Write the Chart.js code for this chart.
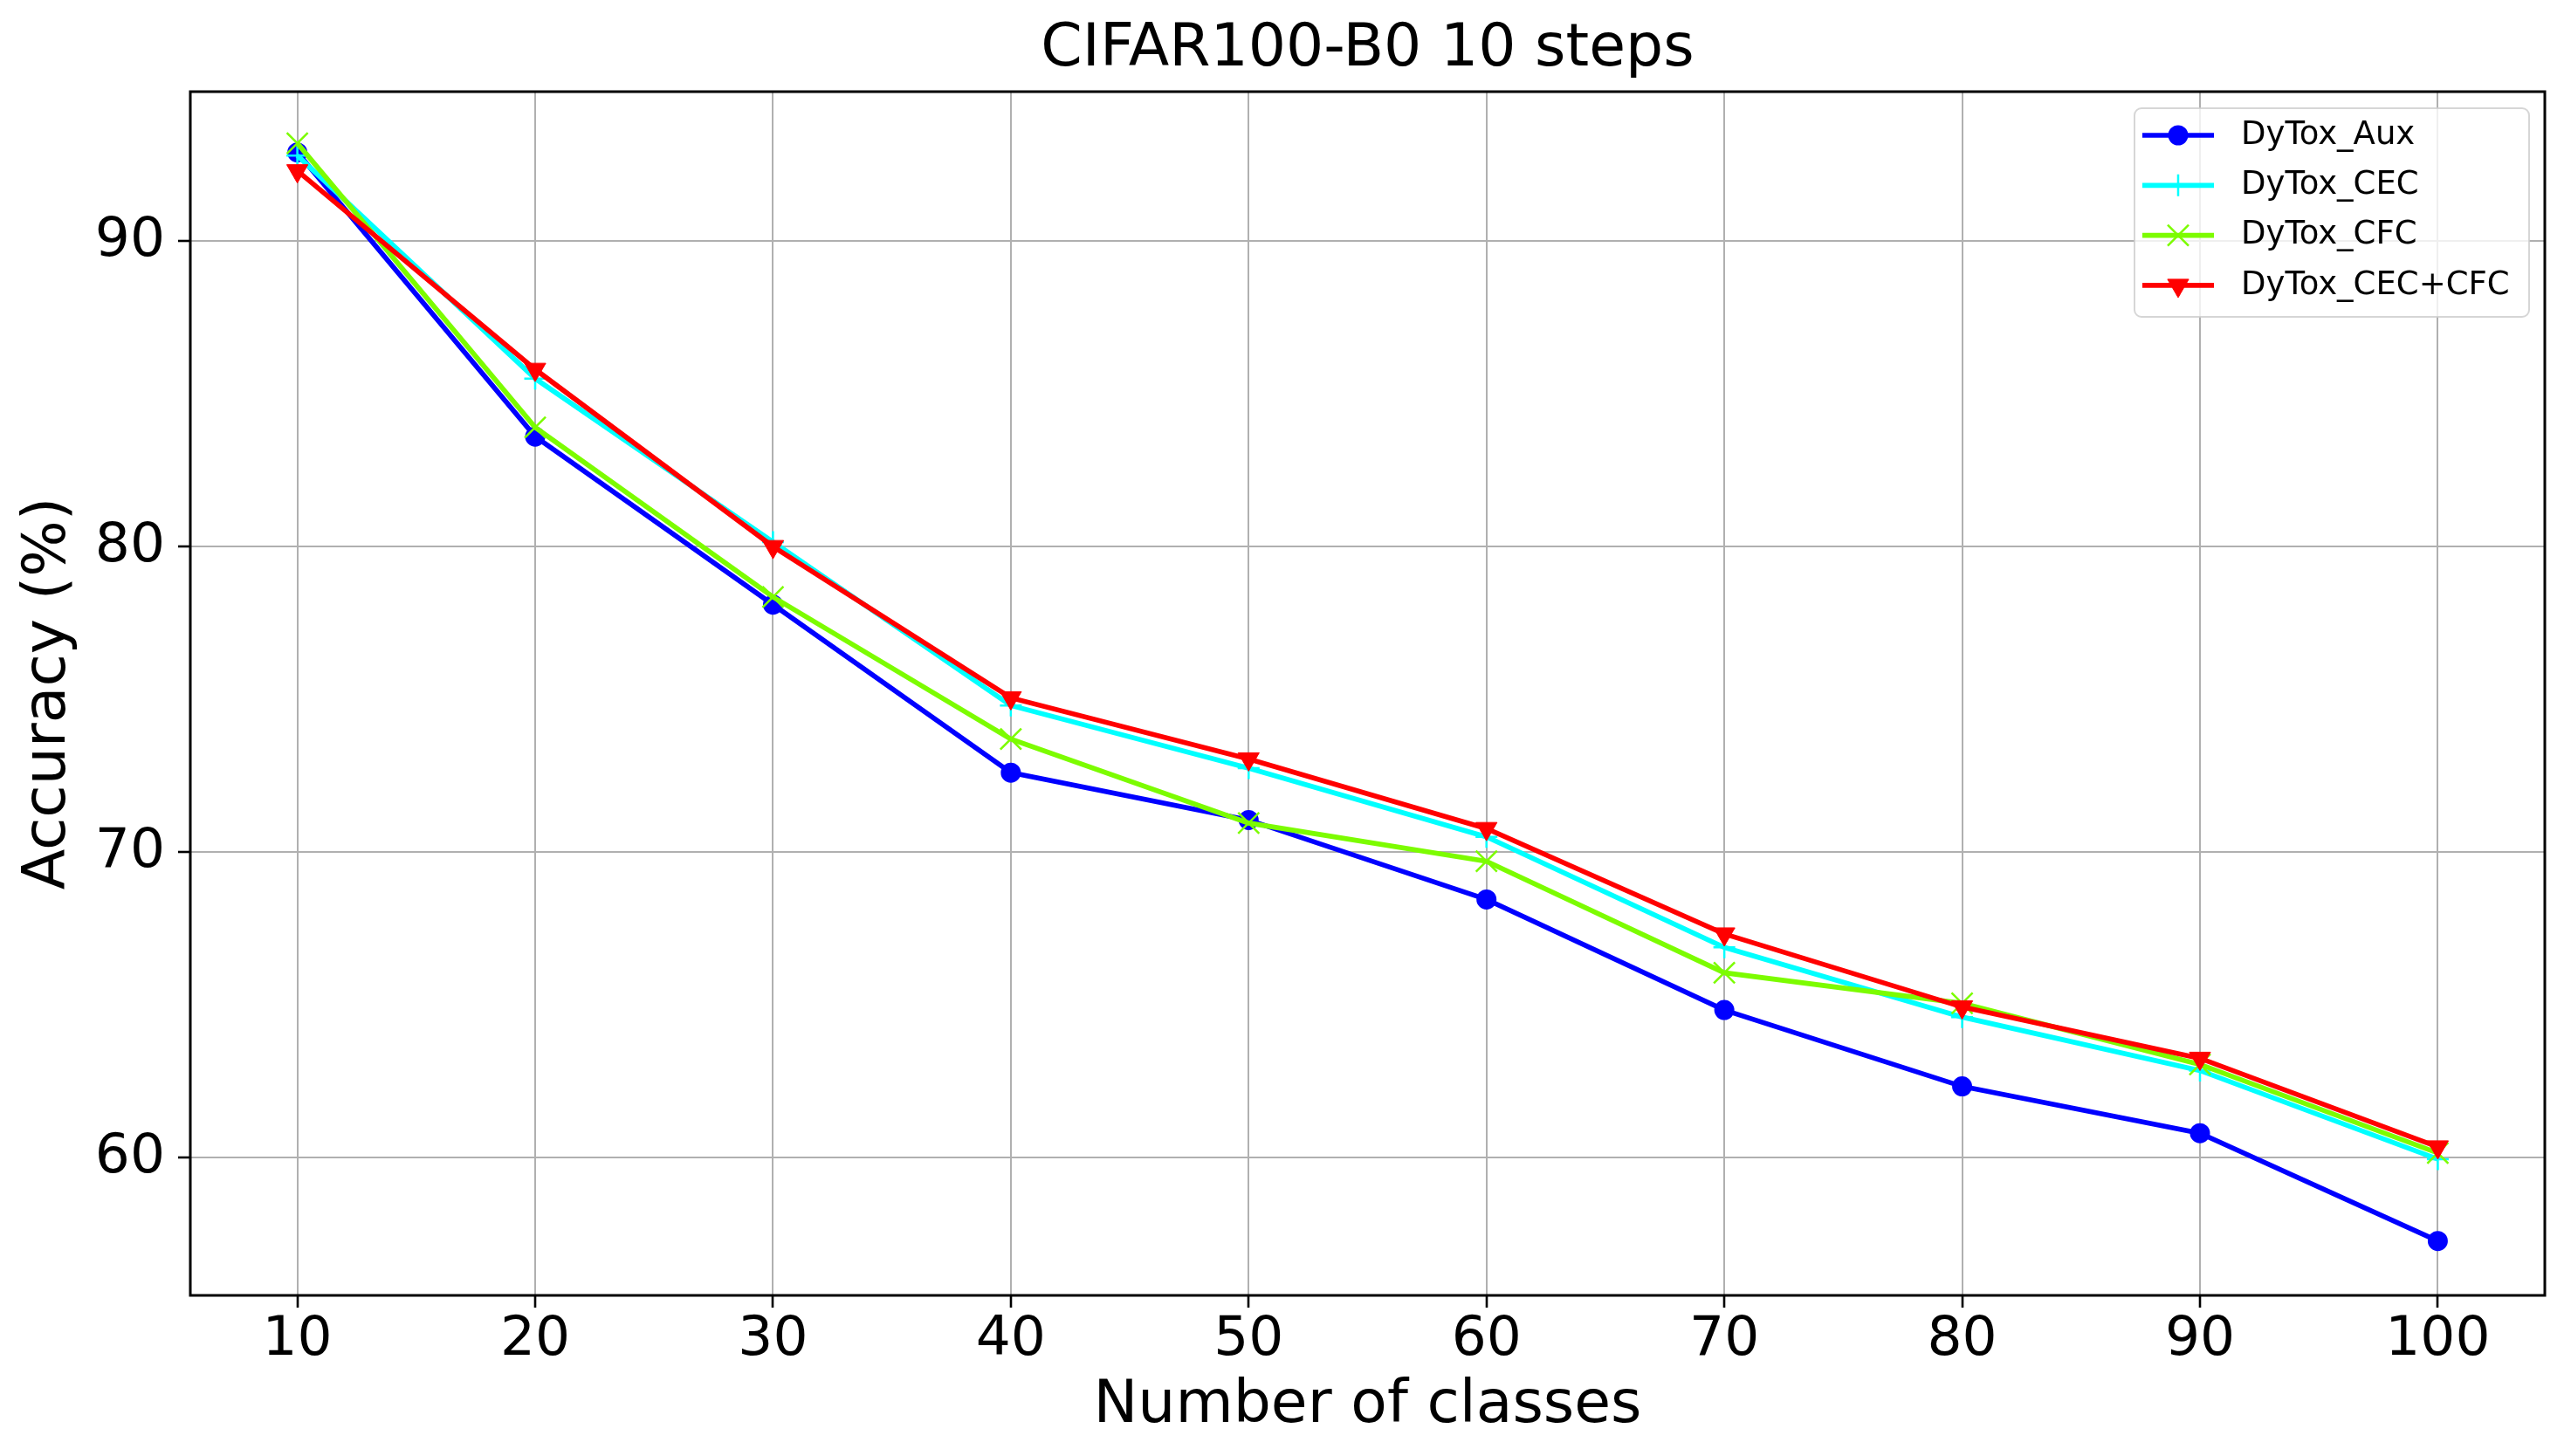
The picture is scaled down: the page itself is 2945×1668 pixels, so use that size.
<!DOCTYPE html>
<html>
<head>
<meta charset="utf-8">
<script src="https://cdn.jsdelivr.net/npm/chart.js@4.4.1/dist/chart.umd.min.js"></script>
<style>
  html, body { margin: 0; padding: 0; background: #fff; }
  canvas { display: block; }
</style>
</head>
<body>
<canvas id="accChart" width="2945" height="1668" style="width:2945px;height:1668px"></canvas>
<script>
// values
const classes = [10, 20, 30, 40, 50, 60, 70, 80, 90, 100];
const xTicks = [10, 20, 30, 40, 50, 60, 70, 80, 90, 100];
const yTicks = [60, 70, 80, 90];
const auxAcc    = [92.9, 83.6, 78.1, 72.6, 71.05, 68.45, 64.83, 62.33, 60.8, 57.27];
const cecAcc    = [92.8, 85.5, 80.15, 74.8, 72.75, 70.5, 66.88, 64.6, 62.85, 59.95];
const cfcAcc    = [93.2, 83.9, 78.35, 73.7, 70.95, 69.7, 66.05, 65.05, 63.05, 60.15];
const cecCfcAcc = [92.3, 85.8, 80.0, 75.05, 73.05, 70.77, 67.32, 64.93, 63.25, 60.35];

const series = [
  { label: 'DyTox_Aux', values: auxAcc, color: '#0000ff', style: 'circle', radius: 10.5, bw: 2, rot: 0 },
  { label: 'DyTox_CEC', values: cecAcc, color: '#00ffff', style: 'cross', radius: 12.5, bw: 2.5, rot: 0 },
  { label: 'DyTox_CFC', values: cfcAcc, color: '#7cfc00', style: 'crossRot', radius: 17, bw: 2.5, rot: 0 },
  { label: 'DyTox_CEC+CFC', values: cecCfcAcc, color: '#ff0000', style: 'triangle', radius: 14, bw: 1, rot: 180 }
];

const fontFamily = "'DejaVu Sans', sans-serif";
Chart.defaults.font.family = fontFamily;
Chart.defaults.color = '#000';

// top and right spines too, like a matplotlib axes box
const frame = {
  id: 'frame',
  afterDraw(chart) {
    const { ctx, chartArea: a } = chart;
    ctx.save();
    ctx.strokeStyle = '#000';
    ctx.lineWidth = 3;
    ctx.strokeRect(a.left, a.top, a.right - a.left, a.bottom - a.top);
    ctx.restore();
  }
};

// legend box inside the plot, upper right
const insideLegend = {
  id: 'insideLegend',
  afterDraw(chart) {
    const { ctx, chartArea: a } = chart;
    const w = 452, h = 239;
    const x0 = a.right - 18 - w, y0 = a.top + 19;
    ctx.save();
    ctx.beginPath();
    ctx.roundRect(x0, y0, w, h, 8);
    ctx.fillStyle = 'rgba(255,255,255,0.8)';
    ctx.fill();
    ctx.lineWidth = 2;
    ctx.strokeStyle = 'rgba(204,204,204,0.8)';
    ctx.stroke();
    chart.data.datasets.forEach((ds, i) => {
      const y = y0 + 31 + i * 57.3;
      ctx.strokeStyle = ds.borderColor;
      ctx.lineWidth = ds.borderWidth;
      ctx.beginPath();
      ctx.moveTo(x0 + 9, y);
      ctx.lineTo(x0 + 91, y);
      ctx.stroke();
      ctx.fillStyle = ds.pointBackgroundColor;
      ctx.strokeStyle = ds.pointBorderColor;
      ctx.lineWidth = ds.pointBorderWidth;
      Chart.helpers.drawPoint(ctx, {
        pointStyle: ds.pointStyle, rotation: ds.pointRotation,
        radius: ds.pointRadius, borderWidth: ds.pointBorderWidth
      }, x0 + 50, y);
      ctx.fillStyle = '#000';
      ctx.font = '37px ' + fontFamily;
      ctx.textAlign = 'left';
      ctx.textBaseline = 'middle';
      ctx.fillText(ds.label, x0 + 122, y);
    });
    ctx.restore();
  }
};

new Chart(document.getElementById('accChart'), {
  type: 'line',
  data: {
    datasets: series.map((s, i) => ({
      label: s.label,
      data: classes.map((c, j) => ({ x: c, y: s.values[j] })),
      borderColor: s.color,
      backgroundColor: s.color,
      pointBackgroundColor: s.color,
      pointBorderColor: s.color,
      pointStyle: s.style,
      pointRadius: s.radius,
      pointBorderWidth: s.bw,
      pointRotation: s.rot,
      borderWidth: 5.7,
      tension: 0,
      fill: false,
      order: series.length - i
    }))
  },
  options: {
    responsive: false,
    devicePixelRatio: 1,
    animation: false,
    layout: { padding: { left: 0, right: 30, top: 0, bottom: 0 } },
    plugins: {
      legend: { display: false },
      tooltip: { enabled: false },
      title: {
        display: true,
        fullSize: false,
        text: 'CIFAR100-B0 10 steps',
        color: '#000',
        font: { size: 68, weight: 'normal', lineHeight: 1.2 },
        padding: { top: 16.2, bottom: 7.2 }
      }
    },
    scales: {
      x: {
        type: 'linear',
        min: 5.5,
        max: 104.5,
        afterBuildTicks: s => { s.ticks = xTicks.map(v => ({ value: v })); },
        afterFit: s => { s.height = 184; },
        ticks: { font: { size: 63 }, color: '#000', padding: 0, autoSkip: false, maxRotation: 0, callback: v => String(v) },
        grid: { color: '#b0b0b0', lineWidth: 2, tickColor: '#000', tickWidth: 2.6, tickLength: 14 },
        border: { display: false },
        title: { display: true, text: 'Number of classes', color: '#000', font: { size: 68 }, padding: { top: 0, bottom: 16 } }
      },
      y: {
        type: 'linear',
        min: 55.49,
        max: 94.89,
        afterBuildTicks: s => { s.ticks = yTicks.map(v => ({ value: v })); },
        afterFit: s => { s.width = 218; },
        ticks: { font: { size: 63 }, color: '#000', padding: 15, callback: v => String(v) },
        grid: { color: '#b0b0b0', lineWidth: 2, tickColor: '#000', tickWidth: 2.6, tickLength: 14 },
        border: { display: false },
        title: { display: true, text: 'Accuracy (%)', color: '#000', font: { size: 68 }, padding: { top: 16, bottom: 0 } }
      }
    }
  },
  plugins: [frame, insideLegend]
});
</script>
</body>
</html>
